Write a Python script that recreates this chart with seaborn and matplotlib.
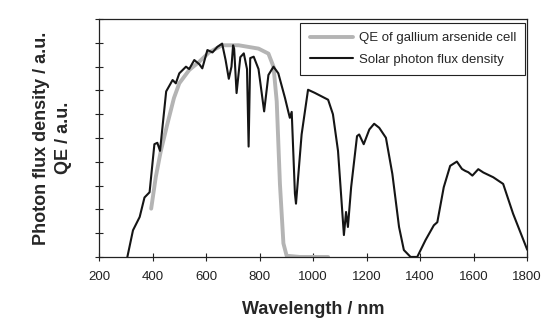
import matplotlib
matplotlib.use("Agg")
import matplotlib.pyplot as plt
import seaborn as sns
import pandas as pd

# Solar photon flux density (a.u.)
solar_wl = [306, 327, 352, 370, 389, 407, 418, 428, 451, 475, 487, 500, 525, 537,
            556, 575, 586, 605, 624, 642, 660, 673, 685, 695, 701, 705, 714, 728,
            741, 753, 759, 765, 778, 796, 817, 833, 852, 870, 895, 907, 913, 920,
            932, 936, 957, 981, 1006, 1056, 1074, 1093, 1115, 1123, 1130, 1142,
            1164, 1172, 1189, 1210, 1228, 1247, 1272, 1296, 1321, 1339, 1364,
            1389, 1420, 1451, 1464, 1488, 1512, 1537, 1556, 1568, 1580, 1595,
            1617, 1636, 1673, 1710, 1747, 1800]
solar_flux = [0.0, 1.12, 1.68, 2.5, 2.72, 4.74, 4.8, 4.46, 6.96, 7.44, 7.3, 7.72,
              8.0, 7.9, 8.28, 8.1, 7.93, 8.7, 8.6, 8.83, 8.97, 8.28, 7.49, 8.0,
              8.9, 8.75, 6.89, 8.4, 8.56, 7.9, 4.64, 8.36, 8.42, 7.9, 6.12, 7.65,
              8.0, 7.72, 6.68, 6.12, 5.85, 6.1, 2.66, 2.24, 5.15, 7.03, 6.9, 6.61,
              6.0, 4.46, 0.92, 1.89, 1.26, 2.93, 5.08, 5.15, 4.74, 5.36, 5.6, 5.43,
              5.01, 3.49, 1.26, 0.29, 0.0, 0.0, 0.71, 1.33, 1.46, 2.93, 3.83, 4.01,
              3.7, 3.62, 3.56, 3.42, 3.69, 3.55, 3.35, 3.07, 1.82, 0.3]

# Quantum efficiency of the GaAs cell (a.u.)
qe_wl = [395, 412, 430, 455, 480, 500, 537, 574, 611, 660, 722, 796, 833, 852,
         864, 876, 889, 901, 950, 1000, 1056]
qe_val = [2.03, 3.35, 4.4, 5.57, 6.68, 7.3, 7.86, 8.2, 8.6, 8.9, 8.9, 8.76, 8.55,
          8.0, 6.54, 3.07, 0.57, 0.05, 0.0, 0.0, 0.0]

x_ticks = [200, 400, 600, 800, 1000, 1200, 1400, 1600, 1800]

sns.set_style("ticks")
plt.rcParams["font.family"] = ["Liberation Sans", "DejaVu Sans"]

solar = pd.DataFrame({"wl": solar_wl, "flux": solar_flux})
qe = pd.DataFrame({"wl": qe_wl, "qe": qe_val})

fig = plt.figure(figsize=(5.58, 3.24), dpi=100)
ax = fig.add_axes([0.1774, 0.207, 0.7675, 0.734])

sns.lineplot(data=qe, x="wl", y="qe", ax=ax, color="#b4b4b4", linewidth=2.8,
             estimator=None, label="QE of gallium arsenide cell")
sns.lineplot(data=solar, x="wl", y="flux", ax=ax, color="#151515", linewidth=1.5,
             estimator=None, label="Solar photon flux density")

ax.set_xlim(200, 1800)
ax.set_ylim(0, 10)
ax.set_xticks(x_ticks)
ax.set_xticklabels([str(t) for t in x_ticks], fontsize=9.5)
ax.set_yticks(range(0, 11))
ax.set_yticklabels([])
ax.tick_params(direction="inout", length=6, width=0.8, colors="#222222", pad=7)
for s in ax.spines.values():
    s.set_visible(True)
    s.set_linewidth(0.9)
    s.set_color("#222222")

ax.set_xlabel("Wavelength / nm", fontsize=13, fontweight="bold", labelpad=13)
ax.set_ylabel("Photon flux density / a.u.\nQE / a.u.", fontsize=13,
              fontweight="bold", linespacing=1.35)
ax.yaxis.set_label_coords(-0.063, 0.5)

leg = ax.legend(loc="upper right", bbox_to_anchor=(0.995, 0.985), borderaxespad=0,
                fontsize=9.5, handlelength=3.3, handletextpad=0.4, borderpad=0.7,
                labelspacing=0.7, frameon=True, fancybox=False,
                edgecolor="#222222", framealpha=1)
leg.get_frame().set_linewidth(0.8)

fig.savefig("out.png", dpi=100)
